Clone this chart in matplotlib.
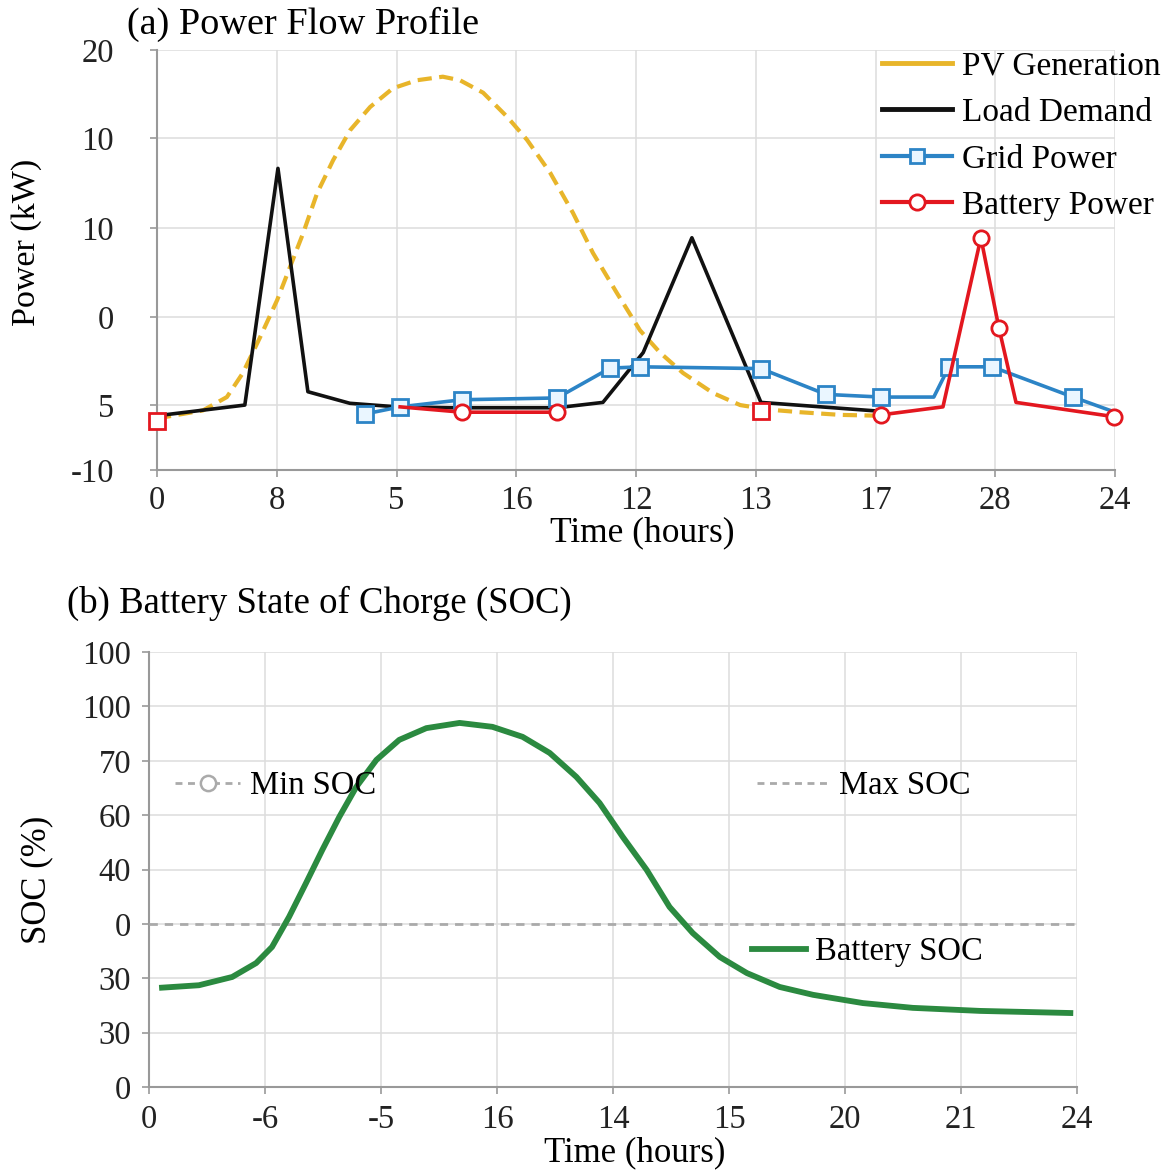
import matplotlib
matplotlib.use("Agg")
import matplotlib.pyplot as plt
from matplotlib.lines import Line2D
import numpy as np

plt.rcParams['font.family'] = ['Liberation Serif', 'DejaVu Serif']

# ---------------- data: panel (a) ----------------
x_tick_hours = [0, 3, 6, 9, 12, 15, 18, 21, 24]
x_tick_labels_a = ["0", "8", "5", "16", "12", "13", "17", "28", "24"]
y_tick_pos_a = [-10, -2.7, 7.2, 17.2, 27.3, 37.2]
y_tick_labels_a = ["-10", "5", "0", "10", "10", "20"]

pv_t = [0, 1.15, 1.75, 2.15, 2.58, 3.01, 3.33, 3.66, 4.01, 4.41, 4.84, 5.34, 5.91,
        6.51, 7.16, 7.59, 8.17, 8.77, 9.27, 9.85, 10.42, 10.92, 11.52, 12.10, 12.60,
        13.18, 13.93, 14.61, 15.3, 16.11, 17.11, 18.11]
pv_p = [-4.2, -3.3, -1.8, 0.9, 4.9, 9.1, 12.8, 16.6, 21.1, 24.8, 28.2, 30.8, 32.9,
        33.8, 34.2, 33.8, 32.4, 29.7, 27.1, 23.4, 18.9, 14.4, 9.9, 5.7, 3.2,
        0.9, -1.35, -2.7, -3.2, -3.5, -3.8, -3.9]

load_t = [0, 2.2, 3.03, 3.78, 4.83, 6.01, 7.34, 10.02, 11.17, 12.18, 13.40, 15.13, 18.14]
load_p = [-3.9, -2.7, 23.9, -1.2, -2.5, -2.9, -3.0, -3.0, -2.4, 3.2, 16.1, -2.4, -3.4]

grid_t = [5.21, 6.09, 7.64, 10.02, 11.35, 12.1, 15.13, 16.76, 18.14, 19.46, 19.84, 20.92, 22.95, 24.0]
grid_p = [-3.7, -2.9, -2.1, -1.9, 1.45, 1.6, 1.4, -1.5, -1.8, -1.8, 1.6, 1.6, -1.8, -3.5]
grid_marked = [0, 1, 2, 3, 4, 5, 6, 7, 8, 10, 11, 12]

batt_t = [6.09, 7.64, 10.02, np.nan, 18.14, 19.69, 20.64, 21.09, 21.52, 23.97]
batt_p = [-2.9, -3.5, -3.5, np.nan, -3.8, -2.9, 16.1, 6.0, -2.4, -4.0]
batt_marked = [1, 2, 4, 6, 7, 9]
batt_sq_t = [0, 15.13]
batt_sq_p = [-4.5, -3.4]

# ---------------- data: panel (b) ----------------
x_tick_labels_b = ["0", "-6", "-5", "16", "14", "15", "20", "21", "24"]
y_tick_pos_b = [0, 12.5, 25, 37.5, 50, 62.5, 75, 87.5, 100]
y_tick_labels_b = ["0", "30", "30", "0", "40", "60", "70", "100", "100"]

soc_t = [0.26, 1.29, 2.15, 2.77, 3.18, 3.62, 4.06, 4.48, 4.92, 5.36, 5.88, 6.47,
         7.17, 8.03, 8.88, 9.66, 10.36, 11.05, 11.65, 12.25, 12.87, 13.46, 14.06,
         14.76, 15.46, 16.31, 17.17, 18.46, 19.75, 21.49, 23.90]
soc_v = [22.8, 23.4, 25.3, 28.5, 32.2, 39.1, 46.9, 54.5, 62.1, 69.0, 75.2, 79.8,
         82.5, 83.7, 82.8, 80.5, 76.8, 71.3, 65.3, 57.5, 49.9, 41.4, 35.4,
         29.9, 26.2, 23.0, 21.2, 19.3, 18.2, 17.5, 17.0]
max_soc_level = 37.5

# ---------------- colours ----------------
c_pv = "#E8B52A"
c_load = "#111111"
c_grid = "#2C84C6"
c_batt = "#E3171F"
c_soc = "#2B8A40"
c_ref = "#AAAAAA"
c_gridline = "#DDDDDD"
c_spine = "#999999"

FS = 23.5

fig = plt.figure(figsize=(11.70, 11.71), dpi=100)


def style_axes(ax, ypad, xpad):
    ax.grid(True, color=c_gridline, linewidth=1.1)
    ax.set_axisbelow(True)
    for s in ["top", "right"]:
        ax.spines[s].set_visible(False)
    for s in ["left", "bottom"]:
        ax.spines[s].set_color(c_spine)
        ax.spines[s].set_linewidth(1.5)
    ax.tick_params(axis="both", colors=c_spine, labelcolor="#222222",
                   labelsize=FS, length=5, width=1.2, direction="out")
    ax.tick_params(axis="y", pad=ypad)
    ax.tick_params(axis="x", pad=xpad)


# ---------------- panel (a) ----------------
ax1 = fig.add_axes([0.1342, 0.5986, 0.8188, 0.3587])
style_axes(ax1, ypad=26, xpad=6)
ax1.set_xlim(0, 24)
ax1.set_ylim(-10, 37.2)
ax1.set_xticks(x_tick_hours)
ax1.set_xticklabels(x_tick_labels_a)
ax1.set_yticks(y_tick_pos_a)
ax1.set_yticklabels(y_tick_labels_a)

ax1.plot(pv_t, pv_p, color=c_pv, linewidth=3.0, linestyle=(0, (3.4, 1.8)), zorder=3)
ax1.plot(load_t, load_p, color=c_load, linewidth=2.6, zorder=4)
ax1.plot(grid_t, grid_p, color=c_grid, linewidth=2.6, marker="s", markersize=11,
         markerfacecolor="#EAF6FF", markeredgecolor=c_grid, markeredgewidth=2,
         markevery=grid_marked, zorder=5, clip_on=False)
ax1.plot(batt_t, batt_p, color=c_batt, linewidth=2.6, marker="o", markersize=11,
         markerfacecolor="white", markeredgecolor=c_batt, markeredgewidth=2,
         markevery=batt_marked, zorder=6, clip_on=False)
ax1.plot(batt_sq_t, batt_sq_p, linestyle="none", marker="s", markersize=11,
         markerfacecolor="white", markeredgecolor=c_batt, markeredgewidth=2,
         zorder=6, clip_on=False)

ax1.set_ylabel("Power (kW)", fontsize=24.5, va="center")
ax1.yaxis.set_label_coords((27 - 157) / 958, (470 - 242) / 420)
ax1.set_xlabel("Time (hours)", fontsize=25.5, va="center")
ax1.xaxis.set_label_coords((642 - 157) / 958, (470 - 533) / 420)
fig.text(127 / 1170, 1 - 24 / 1171, "(a) Power Flow Profile", fontsize=27.5,
         ha="left", va="center")

handles_a = [
    Line2D([], [], color=c_pv, linewidth=3.5),
    Line2D([], [], color=c_load, linewidth=3.5),
    Line2D([], [], color=c_grid, linewidth=3, marker="s", markersize=10,
           markerfacecolor="#EAF6FF", markeredgewidth=2),
    Line2D([], [], color=c_batt, linewidth=3, marker="o", markersize=11,
           markerfacecolor="white", markeredgewidth=2),
]
labels_a = ["PV Generation", "Load Demand", "Grid Power", "Battery Power"]
fig.legend(handles_a, labels_a, loc="upper left",
           bbox_to_anchor=(882 / 1170, 1 - 51 / 1171), frameon=False,
           fontsize=24, handlelength=2.1, handletextpad=0.3, labelspacing=0.48,
           borderaxespad=0, borderpad=0)

# ---------------- panel (b) ----------------
ax2 = fig.add_axes([0.1274, 0.0717, 0.7932, 0.3715])
style_axes(ax2, ypad=8, xpad=7.5)
ax2.set_xlim(0, 24)
ax2.set_ylim(0, 100)
ax2.set_xticks(x_tick_hours)
ax2.set_xticklabels(x_tick_labels_b)
ax2.set_yticks(y_tick_pos_b)
ax2.set_yticklabels(y_tick_labels_b)

ax2.axhline(max_soc_level, color=c_ref, linewidth=2, linestyle=(0, (3, 2.5)), zorder=3)
ax2.plot(soc_t, soc_v, color=c_soc, linewidth=4.2, solid_joinstyle="round",
         solid_capstyle="butt", zorder=4)

ax2.set_ylabel("SOC (%)", fontsize=25, va="center")
ax2.yaxis.set_label_coords((37 - 149) / 928, (1087 - 880) / 435)
ax2.set_xlabel("Time (hours)", fontsize=25, va="center")
ax2.xaxis.set_label_coords((635 - 149) / 928, (1087 - 1153) / 435)
fig.text(67 / 1170, 1 - 603 / 1171, "(b) Battery State of Chorge (SOC)",
         fontsize=26.5, ha="left", va="center")

min_h = Line2D([], [], color=c_ref, linewidth=2, linestyle=(0, (2.5, 2)), marker="o",
               markersize=11, markerfacecolor="white", markeredgecolor=c_ref,
               markeredgewidth=1.8)
fig.legend([min_h], ["Min SOC"], loc="center left",
           bbox_to_anchor=(175 / 1170, 1 - 786 / 1171), frameon=False,
           fontsize=FS, handlelength=2.0, handletextpad=0.3,
           borderaxespad=0, borderpad=0)
max_h = Line2D([], [], color=c_ref, linewidth=2, linestyle=(0, (2.5, 2)))
fig.legend([max_h], ["Max SOC"], loc="center left",
           bbox_to_anchor=(757 / 1170, 1 - 786 / 1171), frameon=False,
           fontsize=FS, handlelength=2.25, handletextpad=0.25,
           borderaxespad=0, borderpad=0)
soc_h = Line2D([], [], color=c_soc, linewidth=4.2)
fig.legend([soc_h], ["Battery SOC"], loc="center left",
           bbox_to_anchor=(752 / 1170, 1 - 952 / 1171), frameon=False,
           fontsize=FS, handlelength=1.65, handletextpad=0.28,
           borderaxespad=0, borderpad=0)

fig.savefig("out.png", dpi=100)
